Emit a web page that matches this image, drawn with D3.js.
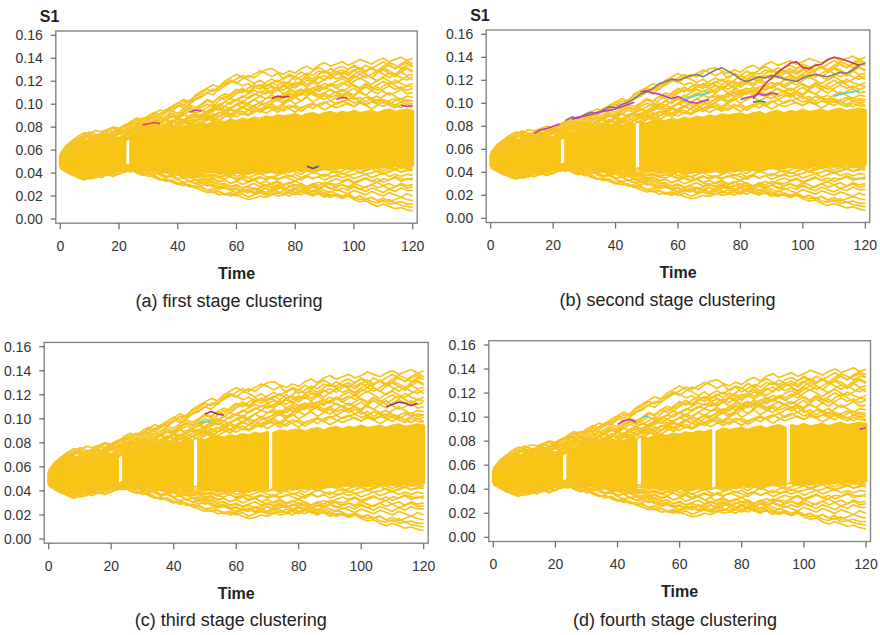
<!DOCTYPE html>
<html><head><meta charset="utf-8">
<script src="https://cdn.jsdelivr.net/npm/d3@7"></script>
<style>body{margin:0;background:#fff}svg{display:block}</style>
</head><body>
<svg id="c" width="880" height="635"></svg>
<script>
// ---------------- DATA ----------------
const timeGrid = [0,2,4,6,8,10,12,14,16,18,20,22,24,26,28,30,32,34,36,38,40,42,44,46,48,50,52,54,56,58,60,62,64,66,68,70,72,74,76,78,80,82,84,86,88,90,92,94,96,98,100,102,104,106,108,110,112,114,116,118,120];
const xTicks = [0,20,40,60,80,100,120];
const yTicks = [0.00,0.02,0.04,0.06,0.08,0.10,0.12,0.14,0.16];
const captions = ["(a) first stage clustering","(b) second stage clustering","(c) third stage clustering","(d) fourth stage clustering"];
const stageBreaks = [[23],[23,47],[23,47,71],[23,47,71,95]];
const yTitle = "S1";
const xTitle = "Time";

// dense core of the scenario fan (values in thousandths)
const coreLow = [46,43,42,41,42,41,43,42,43,44,43,45, 46,45,46,44,45,43,44,43,42,43,42,41, 42,41,42,40,41,40,41,39,40,41,40,41, 42,41,42,41,43,42,43,42,43,44,43,44, 45,44,45,44,46,45,46,45,46,47,46,47,47];
const coreHigh = [55,61,64,65,67,66,68,67,69,70,69,71, 73,74,73,76,77,76,78,79,78,80,82,81, 83,82,84,85,84,86,85,87,86,88,87,89, 88,90,89,90,91,89,91,92,90,92,93,91, 93,92,94,92,93,94,92,94,95,93,94,95,94];

// individual scenario paths (thousandths) – upper fringe
const upperPaths = [
[56,63,68,72,75,74,77,76,78,80,79,82, 84,83,87,89,88,92,95,94,98,102,101,105, 107,110,113,112,117,120,118,122,125,123,127,130, 131,128,126,129,127,131,133,130,134,136,133,135, 137,134,136,139,137,135,138,140,137,139,141,138,140],
[54,62,67,70,73,76,74,73,76,79,77,80, 83,86,84,88,91,89,93,96,99,97,100,104, 106,110,108,113,116,119,122,125,123,126,129,127, 124,127,122,125,121,124,127,125,129,127,131,128, 126,130,133,130,134,131,134,137,134,131,135,138,135],
[55,60,64,68,71,73,70,74,72,75,77,76, 79,82,80,84,87,85,88,92,90,94,97,95, 99,103,101,106,104,109,113,110,114,117,115,119, 122,119,123,126,124,128,125,129,132,129,127,131, 133,130,134,131,128,132,129,133,136,134,131,134,133],
[53,59,65,67,66,70,73,71,74,72,75,77, 80,78,83,81,85,88,86,90,89,93,96,94, 97,100,98,103,107,105,109,112,110,114,117,115, 118,121,117,120,124,121,125,122,126,129,125,128, 130,127,130,126,129,132,128,131,129,126,130,132,129],
[52,58,62,66,64,67,70,68,71,73,70,73, 77,80,78,82,79,84,86,83,87,91,88,92, 95,92,96,99,102,100,104,101,106,109,107,111, 109,113,116,113,117,120,117,121,118,122,125,122, 124,121,125,122,126,123,120,124,127,124,128,125,126],
[57,64,68,70,73,71,73,70,73,76,78,80, 85,88,86,90,93,91,95,98,101,99,103,107, 109,113,111,115,118,121,119,116,118,114,117,113, 110,113,109,106,110,108,112,114,111,115,118,116, 119,116,120,123,120,117,121,123,120,118,121,124,121],
[53,57,61,64,66,64,68,66,69,71,69,72, 76,79,76,80,83,81,79,84,87,85,88,90, 91,94,97,95,98,96,100,103,100,104,107,105, 108,105,109,112,109,113,110,114,116,113,117,114, 117,120,116,113,117,114,117,120,117,121,118,116,118],
[54,59,63,67,69,67,70,72,69,73,75,74, 78,81,79,82,85,83,86,84,88,86,90,92, 89,93,95,98,95,97,100,97,101,104,101,105, 106,103,107,110,106,109,112,108,106,110,113,110, 113,110,108,112,115,112,109,113,116,113,115,112,114],
[55,58,62,65,67,70,67,65,68,71,69,72, 75,73,77,80,77,81,83,86,82,85,88,85, 88,91,88,92,94,91,95,98,95,99,101,98, 101,104,100,103,106,103,107,110,106,104,108,111, 108,111,114,110,108,112,115,111,108,110,113,109,110],
[52,56,59,63,65,63,66,69,66,70,71,69, 73,77,74,78,81,78,82,80,83,86,83,85, 87,90,86,89,93,90,94,91,95,98,95,97, 100,97,101,104,100,103,106,102,105,108,103,106, 108,104,107,111,108,105,103,107,110,107,104,107,106],
[56,61,66,69,71,74,72,75,77,76,79,81, 82,86,88,87,92,95,93,98,101,104,102,108, 111,114,117,115,120,123,126,123,121,118,121,117, 116,113,117,114,111,113,109,111,108,110,106,108, 105,108,104,106,102,105,107,103,100,103,105,102,103],
[53,58,62,64,66,65,68,70,68,72,74,72, 75,78,80,77,81,84,81,85,87,84,88,90, 87,91,94,96,93,97,99,101,98,95,99,101, 103,106,102,105,108,110,107,111,113,115,112,110, 107,110,106,103,106,104,101,104,102,99,102,100,101],
[52,55,59,62,60,63,66,64,67,69,67,70, 73,71,75,77,74,78,80,77,81,84,82,86, 88,86,90,93,91,95,93,97,100,98,102,100, 104,107,105,109,107,111,114,111,115,118,116,120, 122,119,123,126,123,126,129,126,123,126,123,121,124],
[55,60,63,66,68,66,69,72,70,73,75,77, 79,77,80,83,81,84,86,89,87,91,89,92, 95,93,97,100,98,102,104,107,105,108,111,109, 112,115,112,116,119,117,121,119,123,125,122,126, 128,125,129,132,129,131,128,131,134,131,134,136,133],
[54,60,65,67,70,72,69,72,75,73,76,78, 81,84,82,86,89,87,90,94,92,96,99,97, 100,104,102,106,109,107,111,114,111,115,113,116, 119,116,120,117,114,118,115,119,116,113,117,114, 111,114,117,114,118,115,112,116,119,116,113,116,115],
[53,57,60,64,67,69,72,70,73,71,74,76, 78,81,84,82,85,83,87,90,88,91,94,92, 94,97,100,98,102,105,103,106,109,112,110,113, 115,112,116,119,116,120,123,120,124,121,125,128, 125,122,126,129,126,123,127,130,127,124,128,131,128]
];
// lower fringe
const lowerPaths = [
[46,42,39,36,34,36,38,36,39,37,40,41, 43,40,38,39,36,34,35,32,30,31,28,29, 27,25,26,24,22,23,21,19,17,18,20,19, 21,23,22,20,23,25,23,21,22,19,21,20, 18,20,17,15,16,13,11,13,11,9,10,8,7],
[45,43,40,38,37,35,36,38,40,38,39,42, 41,43,40,37,38,35,33,34,31,29,30,27, 28,25,23,24,21,22,20,22,19,21,23,22, 24,22,25,23,26,24,22,25,23,21,24,22, 20,22,19,17,18,15,14,16,13,14,12,11,10],
[44,41,38,37,35,36,38,40,38,41,39,42, 44,42,43,40,41,38,36,37,34,32,33,31, 29,31,28,26,27,25,23,26,24,27,25,23, 26,24,22,25,23,21,24,22,25,23,20,22, 19,21,18,20,17,19,16,18,15,17,19,17,16],
[47,44,42,40,38,39,41,39,42,40,43,42, 45,43,41,42,39,40,37,38,35,36,33,34, 31,33,30,28,29,26,27,24,26,23,25,27, 24,26,28,25,27,29,26,24,27,25,23,26, 24,22,25,23,21,24,22,20,23,21,19,22,20],
[46,43,40,39,37,39,37,40,42,40,43,44, 46,44,45,42,43,40,41,38,39,36,37,34, 35,32,33,30,31,28,30,27,29,31,28,30, 27,29,26,28,30,27,25,28,26,29,27,25, 27,25,28,26,24,27,25,23,26,24,27,25,25],
[47,45,42,41,39,41,40,42,41,44,43,45, 47,45,46,43,44,41,42,39,40,37,38,36, 37,34,35,32,34,31,33,30,32,34,31,33, 30,32,29,31,33,30,28,31,29,32,30,28, 30,28,31,29,27,30,32,29,31,28,31,29,30],
[45,42,40,38,39,37,39,41,39,42,44,43, 45,47,44,45,42,43,40,41,38,39,36,37, 38,35,36,33,34,31,33,35,32,34,31,29, 31,33,30,32,29,31,28,30,32,30,33,35, 33,35,32,34,36,33,35,32,34,36,33,35,34],
[48,46,44,42,40,42,41,43,45,43,46,44, 47,45,46,44,42,43,41,42,39,40,38,39, 40,37,38,36,35,37,34,36,33,35,37,34, 36,34,37,35,33,36,38,35,37,34,36,38, 36,38,35,37,39,36,38,40,37,39,37,39,38],
[47,45,43,42,41,43,42,44,43,45,44,46, 48,46,47,44,45,43,44,41,42,40,41,39, 40,38,39,37,38,40,37,39,36,38,40,37, 36,38,40,37,39,36,38,41,39,37,40,42, 39,41,43,40,42,44,41,39,42,44,41,43,42],
[46,43,41,39,38,40,39,41,43,42,44,45, 46,44,45,42,43,40,41,38,39,36,37,34, 33,35,32,30,31,28,29,27,28,26,27,29, 28,30,27,25,27,24,26,28,27,29,31,30, 32,34,31,33,35,33,32,35,34,37,35,34,36],
[45,42,39,37,36,38,37,39,38,40,42,41, 43,41,39,40,37,35,33,34,31,32,29,27, 25,23,24,21,22,20,22,24,23,26,24,27, 25,28,26,29,27,25,28,30,27,29,26,28, 30,27,29,26,28,30,27,29,26,28,30,27,28],
[46,43,41,39,37,38,40,39,41,40,42,41, 43,44,41,42,39,40,37,38,35,36,33,31, 32,29,30,27,28,25,26,24,25,22,23,21, 22,20,21,23,21,24,22,20,23,21,19,21, 19,21,18,20,17,19,16,15,17,14,15,13,13]
];
// paths wandering across the edges of the core
const innerPaths = [
[50,55,58,62,65,63,66,68,66,69,71,70, 72,75,73,77,79,76,80,82,79,83,85,82, 85,88,85,89,91,88,92,94,91,95,93,96, 98,95,99,96,93,97,99,96,100,102,99,97, 99,101,98,102,99,96,99,102,99,97,100,98,97],
[49,46,44,42,43,41,43,45,43,46,44,46, 48,46,44,45,43,44,42,43,41,42,40,41, 42,40,41,39,40,38,40,42,39,41,43,40, 42,44,41,43,45,42,44,46,43,45,47,44, 46,44,47,45,43,46,44,47,45,43,46,44,45],
[51,56,60,63,66,68,65,67,70,68,71,73, 75,73,76,78,81,79,83,86,84,87,85,88, 90,88,92,89,93,96,94,97,95,93,96,98, 96,93,96,99,97,94,97,100,98,95,98,101, 103,100,98,101,99,102,100,98,101,99,97,100,98],
[48,45,43,41,40,42,41,43,45,44,46,45, 47,48,46,47,45,46,44,45,43,44,42,43, 44,42,43,41,42,40,41,39,41,43,42,40, 41,39,41,43,41,39,42,40,42,44,42,40, 42,44,43,41,43,45,44,42,44,46,44,45,47],
[50,54,57,60,62,64,63,66,65,67,69,68, 71,73,71,74,76,78,76,79,81,80,83,85, 83,86,88,86,89,91,89,92,90,93,95,92, 95,97,94,97,99,96,99,101,98,101,103,100, 102,104,101,103,100,102,104,101,103,105,102,104,103],
[49,45,43,42,40,39,41,40,42,41,43,44, 45,43,44,42,43,41,42,40,41,39,40,38, 39,37,38,36,38,37,35,37,36,34,36,35, 37,35,36,38,36,34,37,35,37,39,37,38, 40,38,39,41,39,40,42,40,41,43,41,42,44]
];

// highlighted (coloured) cluster paths per panel: times and values (thousandths)
const accentPaths = [
 {panel:0,color:"#e0405a",t:[28,30,32,34],v:[82,83,84,83]},
 {panel:0,color:"#c040c0",t:[44,46,48],v:[93,95,94]},
 {panel:0,color:"#d03050",t:[72,74,76,78],v:[105,107,106,107]},
 {panel:0,color:"#c040c0",t:[94,96,98],v:[104,106,105]},
 {panel:0,color:"#c040c0",t:[116,118,120],v:[99,98,99]},
 {panel:0,color:"#4050a0",t:[84,86,88],v:[46,44,46]},
 {panel:1,color:"#7a7a80",t:[24,26,28,30,32,34,36,38,40,42,44,46,48,50,52,54,56,58,60,62,64,66,68,70,72,74,76,78,80,82,84,86,88,90,92,94,96,98,100,102,104,106,108,110,112,114,116,118,120],
   v:[85,88,87,90,92,91,94,97,96,99,101,104,108,110,113,117,119,121,120,122,124,125,123,126,129,131,128,125,121,119,121,123,122,124,123,121,120,119,122,124,125,124,123,125,127,126,129,133,135]},
 {panel:1,color:"#c83848",t:[84,86,88,90,92,94,96,98,100,102,104,106,108,110,112,114,116,118],v:[104,110,117,122,127,131,135,136,131,130,133,134,138,140,139,137,135,133]},
 {panel:1,color:"#c03cc8",t:[14,16,18,20,22],v:[74,77,78,80,82]},
 {panel:1,color:"#c03cc8",t:[26,28,30,32,34,36,38,40,42,44,46],v:[86,88,89,90,92,93,94,95,97,99,101]},
 {panel:1,color:"#c03cc8",t:[48,50,52,54,56,58,60,62,64,66,68,70],v:[110,111,109,108,106,104,106,103,101,100,102,103]},
 {panel:1,color:"#c03cc8",t:[80,82,84,86,88,90,92],v:[103,105,106,108,107,109,108]},
 {panel:1,color:"#40d8d0",t:[62,64,66,68,70],v:[104,105,107,108,109]},
 {panel:1,color:"#40d8d0",t:[110,112,114,116,118],v:[106,108,109,110,111]},
 {panel:1,color:"#30a040",t:[84,86,88],v:[101,102,101]},
 {panel:2,color:"#a03070",t:[50,52,54,56],v:[104,106,104,103]},
 {panel:2,color:"#40d8d0",t:[48,50,52],v:[96,98,97]},
 {panel:2,color:"#a03070",t:[108,110,112,114,116,118],v:[110,112,114,113,111,113]},
 {panel:3,color:"#c03cc8",t:[40,42,44,46],v:[94,97,98,96]},
 {panel:3,color:"#c03cc8",t:[118,120],v:[90,91]},
 {panel:3,color:"#40d8d0",t:[48,50],v:[100,101]}
];

// ---------------- LAYOUT ----------------
const layouts = [
 {x0:60.3, x1:412.7, yT:35.3,  yB:219,   s1:true,  capX:229,   capY:301},
 {x0:490.7,x1:865.3, yT:34.3,  yB:218.3, s1:true,  capX:667.5, capY:300},
 {x0:48.7, x1:423.7, yT:346.7, yB:539,   s1:false, capX:230.8, capY:620},
 {x0:493.3,x1:866,   yT:345,   yB:537.3, s1:false, capX:675,   capY:620}
];
const YELLOW = "#f9c514";
const LINEY = "#f7c31e";
const tickFont = "'Liberation Sans Narrow','Arial Narrow','Liberation Sans',Arial,sans-serif";
const svg = d3.select("#c");

layouts.forEach((L, p) => {
  const x = d3.scaleLinear().domain([0,120]).range([L.x0, L.x1]);
  const y = d3.scaleLinear().domain([0,0.16]).range([L.yB, L.yT]);
  const g = svg.append("g");
  const bx0 = L.x0 - 4.5, bx1 = L.x1 + 4.5, by0 = L.yT - 4.3, by1 = L.yB + 4.2;
  const brks = stageBreaks[p];
  const segOf = t => brks.filter(b => b < t).length;

  // core area per clustering stage segment
  const idx = timeGrid.map((t,i)=>i);
  const segs = d3.groups(idx, i => segOf(timeGrid[i])).map(d=>d[1]);
  const area = d3.area().x(i=>x(timeGrid[i])).y0(i=>y(coreLow[i]/1000)).y1(i=>y(coreHigh[i]/1000));
  segs.forEach(s => {
    g.append("path").attr("d", area(s)).attr("fill", YELLOW)
      .attr("stroke", YELLOW).attr("stroke-width", 3).attr("stroke-linejoin","round");
  });

  // scenario paths
  const line = d3.line().x(d=>x(d[0])).y(d=>y(d[1]/1000));
  upperPaths.concat(lowerPaths, innerPaths).forEach(path => {
    g.append("path").attr("d", line(path.map((v,i)=>[timeGrid[i], v])))
      .attr("fill","none").attr("stroke", LINEY).attr("stroke-width",1.7)
      .attr("stroke-linejoin","round");
  });

  // coloured highlighted paths
  accentPaths.filter(a=>a.panel===p).forEach(a => {
    g.append("path").attr("d", line(a.t.map((t,i)=>[t, a.v[i]])))
      .attr("fill","none").attr("stroke", a.color).attr("stroke-width",1.6)
      .attr("stroke-linejoin","round");
  });

  // box
  g.append("rect").attr("x",bx0).attr("y",by0).attr("width",bx1-bx0).attr("height",by1-by0)
    .attr("fill","none").attr("stroke","#858585").attr("stroke-width",1.4);

  // y axis
  yTicks.forEach(v => {
    g.append("line").attr("x1",bx0-5).attr("x2",bx0).attr("y1",y(v)).attr("y2",y(v))
      .attr("stroke","#666").attr("stroke-width",1.2);
    g.append("text").attr("x",bx0-13).attr("y",y(v)).attr("dy","0.36em")
      .attr("text-anchor","end").attr("font-family",tickFont).attr("font-size",14)
      .attr("fill","#333").text(d3.format(".2f")(v));
  });
  // x axis
  xTicks.forEach(v => {
    g.append("line").attr("x1",x(v)).attr("x2",x(v)).attr("y1",by1).attr("y2",by1+6)
      .attr("stroke","#666").attr("stroke-width",1.2);
    g.append("text").attr("x",x(v)).attr("y",by1+22.5).attr("dy","0.36em")
      .attr("text-anchor","middle").attr("font-family",tickFont).attr("font-size",14)
      .attr("fill","#333").text(v);
  });
  g.append("text").attr("x",(L.x0+L.x1)/2).attr("y",by1+50).attr("dy","0.36em")
    .attr("text-anchor","middle").attr("font-family",tickFont).attr("font-size",16)
    .attr("font-weight","bold").attr("fill","#222").text(xTitle);
  if (L.s1) {
    g.append("text").attr("x",bx0-16).attr("y",by0-15).attr("dy","0.36em")
      .attr("font-family",tickFont).attr("font-size",16).attr("font-weight","bold")
      .attr("fill","#222").text(yTitle);
  }
  g.append("text").attr("x",L.capX).attr("y",L.capY).attr("dy","0.36em")
    .attr("text-anchor","middle").attr("font-family","'Liberation Sans',Arial,sans-serif")
    .attr("font-size",18).attr("fill","#222").text(captions[p]);
});
</script>
</body></html>
